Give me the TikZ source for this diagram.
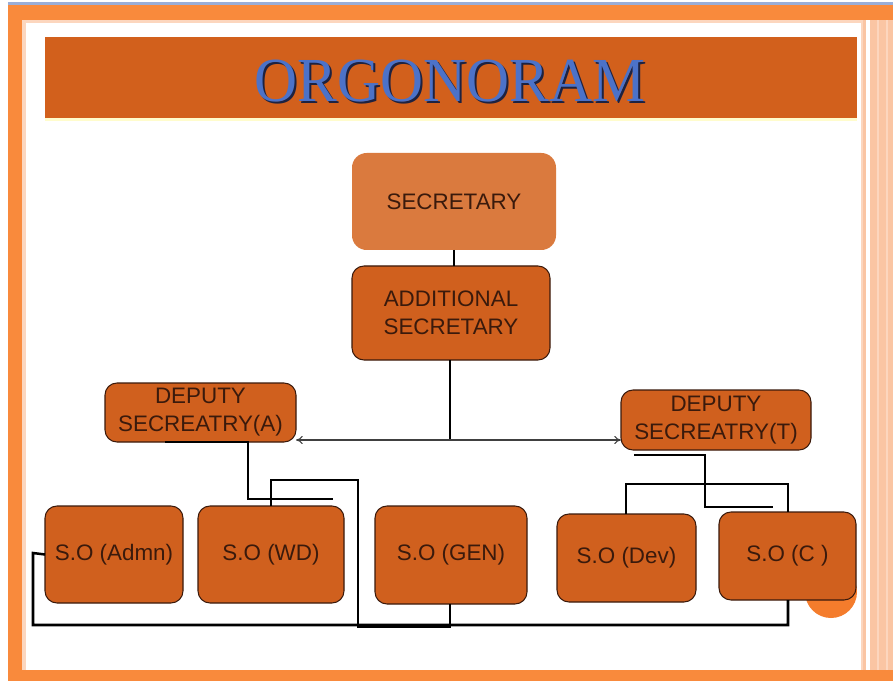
\documentclass[tikz,border=0pt]{standalone}
\usepackage{fontspec}
\setmainfont{Liberation Sans}
\newfontfamily\titlefont{Liberation Serif}
\usetikzlibrary{arrows.meta}
\definecolor{frameorange}{HTML}{F98A3C}
\definecolor{framepale}{HTML}{FCD6BE}
\definecolor{stripe}{HTML}{FAC5A3}
\definecolor{topline}{HTML}{9AAED8}
\definecolor{barorange}{HTML}{D2601C}
\definecolor{boxorange}{HTML}{D0601E}
\definecolor{lightbox}{HTML}{DA7A3E}
\definecolor{bloborange}{HTML}{F47C2C}
\definecolor{boxtext}{HTML}{3A1A0C}
\definecolor{titleblue}{HTML}{4C72C8}
\definecolor{titleshadow}{HTML}{1E2240}
\tikzset{
  orgbox/.style={rectangle, rounded corners=9pt, fill=boxorange, draw=boxtext,
    line width=0.8pt, inner sep=0pt, outer sep=0pt, align=center,
    text=boxtext, font=\fontsize{16.8}{21}\selectfont},
  topbox/.style={orgbox, fill=lightbox, draw=none, rounded corners=11pt},
  link/.style={line width=1.9pt, black},
  peer/.style={line width=0.8pt, draw=black!75, {To[length=5pt,width=6pt]}-{To[length=5pt,width=6pt]}}
}
\begin{document}
\begin{tikzpicture}[x=0.75pt, y=-0.75pt]
\useasboundingbox (0,0) rectangle (893,681);
% slide frame
\fill[white] (0,0) rectangle (893,681);
\fill[stripe] (862,20) rectangle (893,670);
\fill[white] (866,20) rectangle (870,670);
\fill[framepale] (877,20) rectangle (879,670);
\fill[framepale] (886,20) rectangle (888,670);
\fill[framepale] (861,20) rectangle (863,670);
\fill[topline] (8,2) rectangle (893,5);
\fill[frameorange] (8,5) rectangle (893,20);
\fill[frameorange] (8,5) rectangle (22,681);
\fill[frameorange] (8,670) rectangle (893,681);
\fill[framepale] (22,20) rectangle (26,670);
\fill[framepale] (22,20) rectangle (861,23);
% title bar
\fill[yellow!20] (45,118) rectangle (857,121);
\fill[barorange] (45,37) rectangle (857,118);
\node[font=\titlefont\fontsize{47}{47}\selectfont, text=titleshadow, xscale=0.95]
  at (452,83) {ORGONORAM};
\node (title) [font=\titlefont\fontsize{47}{47}\selectfont, text=titleblue, xscale=0.95]
  at (450,81) {ORGONORAM};
% decorative disc behind the last box
\fill[bloborange] (831,592) circle (26);
% boxes
\node (sec) [topbox, minimum width=153pt, minimum height=72.75pt] at (454,201.5) {SECRETARY};
\node (add) [orgbox, minimum width=148.5pt, minimum height=70.5pt] at (451,313) {ADDITIONAL\\SECRETARY};
\node (dsa) [orgbox, minimum width=143.25pt, minimum height=44.25pt] at (200.5,412.5) {DEPUTY\\SECREATRY(A)};
\node (dst) [orgbox, minimum width=142.5pt, minimum height=45pt] at (716,420) {DEPUTY\\SECREATRY(T)};
\node (adm) [orgbox, minimum width=103.5pt, minimum height=72.75pt] at (114,554.5) {S.O (Admn)};
\node (wd)  [orgbox, minimum width=109.5pt, minimum height=72.75pt] at (271,554.5) {S.O (WD)};
\node (gen) [orgbox, minimum width=114pt, minimum height=73.5pt] at (451,555) {S.O (GEN)};
\node (dev) [orgbox, minimum width=104.25pt, minimum height=66pt] at (626.5,558) {S.O (Dev)};
\node (soc) [orgbox, minimum width=102.75pt, minimum height=66pt] at (787.5,556) {S.O (C )};
% junction points and free ends
\coordinate (j) at (450,440);
\coordinate (aStart) at (165,442);
\coordinate (aEnd) at (333,499);
\coordinate (tStart) at (634,455);
\coordinate (tEnd) at (773,507);
% connectors
\draw[link, line width=1.4pt] (sec.south) -- (sec.south |- add.north);
\draw[link, line width=1.4pt] (add.south -| j) -- (j);
\draw[peer] (dsa.east |- j) -- (dst.west |- j);
\draw[link] (aStart) -- (248,442) -- (248,499) -- (aEnd);
\draw[link] (wd.north) -- (271,480) -- (358,480) -- (358,627) -- (450,627) -- (gen.south -| 450,0);
\draw[link] (adm.west) -- (33,553) -- (33,625) -- (788,625) -- (soc.south -| 788,0);
\draw[link] (tStart) -- (705,455) -- (705,507) -- (tEnd);
\draw[link] (dev.north -| 626,0) -- (626,484) -- (788,484) -- (soc.north -| 788,0);
\end{tikzpicture}
\end{document}
